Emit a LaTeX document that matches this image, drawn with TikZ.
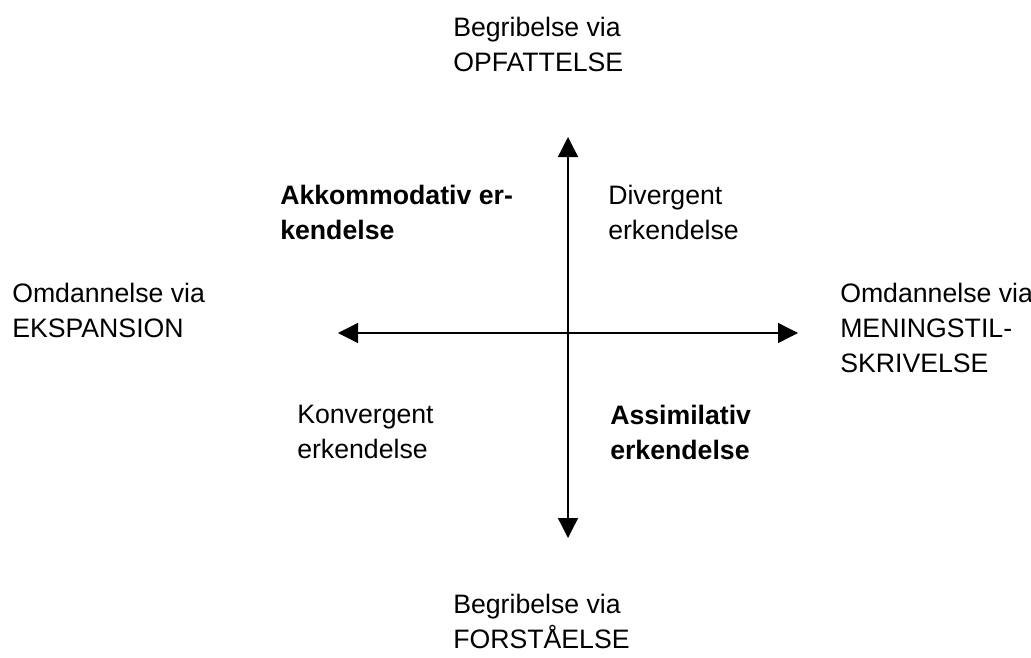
\documentclass[tikz,border=0pt]{standalone}
\usepackage{fontspec}
\setmainfont{Liberation Sans}
\usepackage{tikz}
\usetikzlibrary{positioning, arrows.meta}

\tikzstyle{axistext} = [font=\fontsize{20}{26.25}\selectfont, anchor=north west, inner sep=0pt, align=left]
\tikzstyle{boldtext} = [axistext, font=\fontsize{20}{26.25}\selectfont\bfseries]
\tikzstyle{arrow} = [line width=1pt, -{Triangle[length=15pt, width=15pt]}]

\begin{document}
\begin{tikzpicture}[x=0.75pt, y=-0.75pt]
    \useasboundingbox (0,0) rectangle (1031,657);

    \coordinate (centre) at (568,333);
    \coordinate (up) at (568,137);
    \coordinate (down) at (568,538);
    \coordinate (west) at (338,333);
    \coordinate (east) at (798,333);

    \draw[arrow] (centre)--(up);
    \draw[arrow] (centre)--(down);
    \draw[arrow] (centre)--(west);
    \draw[arrow] (centre)--(east);

    \node (opfat) [axistext] at (453,17) {Begribelse via\\OPFATTELSE};
    \node (forst) [axistext] at (453,594) {Begribelse via\\FORSTÅELSE};
    \node (ekspan) [axistext] at (12,283) {Omdannelse via\\EKSPANSION};
    \node (mening) [axistext] at (840,283) {Omdannelse via\\MENINGSTIL-\\SKRIVELSE};

    \node (akkom) [boldtext] at (280,185) {Akkommodativ er-\\kendelse};
    \node (diverg) [axistext] at (608,185) {Divergent\\erkendelse};
    \node (konverg) [axistext] at (297,405) {Konvergent\\erkendelse};
    \node (assim) [boldtext] at (610,405) {Assimilativ\\erkendelse};

\end{tikzpicture}
\end{document}
